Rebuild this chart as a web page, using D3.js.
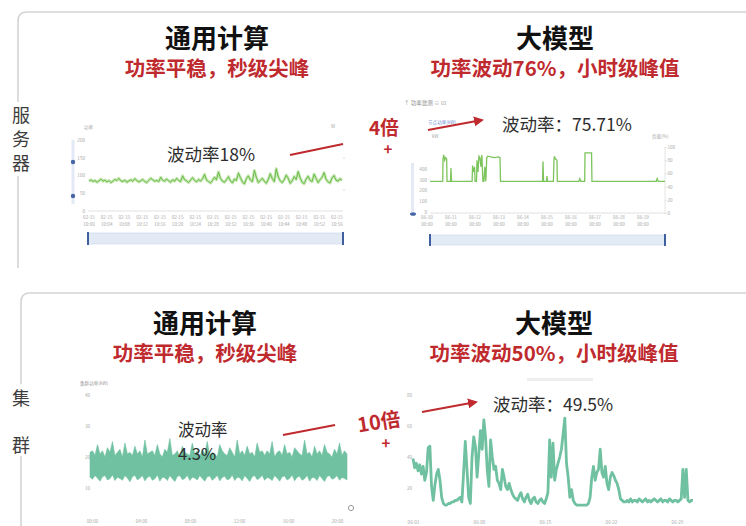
<!DOCTYPE html>
<html>
<head>
<meta charset="utf-8">
<script src="https://cdn.jsdelivr.net/npm/d3@7"></script>
<style>
  body { margin: 0; background: #fff; }
  svg { display: block; }
</style>
</head>
<body>
<svg id="chart" width="746" height="526"></svg>
<script>
// ---------- text content ----------
const rowLabels = [["服", "务", "器"], ["集", "群"]];
const panelTitles = ["通用计算", "大模型"];
const serverSubtitles = ["功率平稳，秒级尖峰", "功率波动76%，小时级峰值"];
const clusterSubtitles = ["功率平稳，秒级尖峰", "功率波动50%，小时级峰值"];
const multipliers = ["4倍", "10倍"];
const serverNotes = ["波动率18%", "波动率：75.71%"];
const clusterNotes = [["波动率", "4.3%"], ["波动率：49.5%"]];

// ---------- server, general compute: power samples (W) ----------
const serverGeneral = [
  84,88,83,86,81,85,90,84,87,82,86,80,84,89,86,92,85,83,87,81,
  85,88,84,91,86,82,85,89,83,80,86,92,88,84,86,83,95,87,84,90,
  85,81,88,84,92,86,83,99,88,85,80,87,94,86,82,89,84,91,103,87,
  83,79,86,95,88,110,92,84,81,88,97,85,79,90,86,107,94,82,76,91,
  99,87,83,114,95,80,86,92,84,78,89,105,91,83,119,96,85,80,88,101,
  92,78,85,97,89,111,93,81,77,90,98,86,83,104,92,80,88,95,108,89,
  82,79,93,100,87,84,91,86
];
const serverGeneralYTicks = [0, 50, 100, 150, 200];
const serverGeneralTicks = [
  "02-15 10:00","02-15 10:04","02-15 10:08","02-15 10:12","02-15 10:16",
  "02-15 10:20","02-15 10:24","02-15 10:28","02-15 10:32","02-15 10:36",
  "02-15 10:40","02-15 10:44","02-15 10:48","02-15 10:52","02-15 10:56"
];

// ---------- server, large model: [hour, load %] ----------
const serverLLM = [
  [0,48],[13,48],[13.3,82],[14,88],[15,80],[16,84],[17,82],[17.4,48],[21,48],[21.4,68],[22,48],
  [43,48],[43.5,72],[44,62],[45.5,70],[46,48],[47.5,48],[48,80],[49,62],[50,86],[51,84],[52,70],
  [53,88],[54,48],[55,48],[56,70],[57,48],[58,84],[59,86],[62,85],[66,84],[70,85],[71.5,84],
  [72,48],[115,48],[115.4,78],[116,48],[119,48],[119.5,56],[120,48],[126,48],[126.6,80],[127,86],
  [128,82],[129.7,80],[130,48],[152,48],[153,52],[154,48],[158,48],[158.3,91],[165,91],[165.4,48],
  [231,48],[232,52],[233,48],[240,48]
];
const serverLLMLeftTicks = [0, 100, 200, 300, 400];
const serverLLMRightTicks = [0, 20, 40, 60, 80, 100];
const serverLLMTicks = [
  "06-10 00:00","06-11 00:00","06-12 00:00","06-13 00:00","06-14 00:00",
  "06-15 00:00","06-16 00:00","06-17 00:00","06-18 00:00","06-19 00:00"
];

// ---------- cluster, general compute: envelope of the power band (kW) ----------
const clusterGeneralTop = [
  21.5,22,20.5,24,21,22,20,23,21.5,25,20.5,21.5,22.5,20,24.5,21,21.5,20.5,23.5,21,
  22,20,25.5,21,21.5,22,20.5,24,21,20,22.5,21.5,26,20.5,21,22,20,23.5,21.5,21,
  20.5,24.5,21,22,20,22.5,21,25,20.5,21.5,21,20,24,22,21,20.5,23,21.5,20,25.5,
  21,22,20.5,23.5,21,21.5,20,24.5,21.5,22,20.5,22,21,25,20,21.5,22,20.5,24,21,
  21.5,20,23,22,21,20.5,25.5,21,21.5,20,23.5,21,22,20.5,24,21.5,21,20,22.5,21,
  24.5,20.5,22,21
];
const clusterGeneralBottom = [
  13.5,12.8,14,13.2,12.2,13.6,14,12.6,13,14.2,12.4,13.5,13.1,12.5,14,13.2,12,13.6,14.1,12.6,
  13.2,14,12.3,13.4,13.9,12.5,13,14.2,12.2,13.5,13.3,12.4,14,13,12.1,13.7,14,12.7,13.1,14.1,
  12.4,13.5,13.2,12.6,14,13.1,12.2,13.6,13.9,12.5,13.2,14.1,12.3,13.4,13.8,12.6,13,14.2,12.4,13.5,
  13.3,12.3,14,13.1,12.1,13.6,14,12.7,13.2,14.1,12.5,13.4,13.1,12.4,14,13.2,12.2,13.6,13.9,12.6,
  13.1,14.2,12.3,13.5,13.8,12.5,13,14.1,12.2,13.4,13.3,12.4,14,13.1,12.1,13.7,14,12.8,13.2,14,
  12.5,13.4,13.1,12.6
];
const clusterGeneralYTicks = [10, 20, 30, 40];
const clusterGeneralTicks = ["00:00", "04:00", "08:00", "12:00", "16:00", "20:00"];

// ---------- cluster, large model: power (MW) ----------
const clusterLLM = [
  39,33,36,31,35,29,34,25,30,46,47,21,12,22,29,32,25,14,10,9,
  9,10,10,11,11,12,12,13,14,11,30,50,32,14,10,40,53,47,27,42,
  57,45,64,53,32,21,51,40,32,34,25,23,19,32,27,21,19,23,19,16,
  14,13,12,15,17,13,11,14,16,12,10,13,14,11,10,12,13,11,10,13,
  17,51,27,49,25,32,36,40,45,55,65,36,27,14,19,12,10,9,9,9,
  9,9,9,9,10,14,27,34,25,30,32,45,30,27,34,23,19,27,30,28,
  25,23,19,13,12,11,11,12,11,13,11,12,12,11,13,12,11,12,13,11,
  12,11,12,13,12,11,12,13,11,12,12,11,13,12,11,12,12,11,12,13,
  32,14,32,12,11,12,12
];
const clusterLLMYTicks = [20, 40, 60, 80];
const clusterLLMTicks = ["06-01", "06-08", "06-15", "06-22", "06-29"];

// ---------- styles ----------
const FONT = "'Noto Sans CJK SC', 'Noto Sans', sans-serif";
const RED = "#bf2a2e";
const GREEN = "#5fb83c";
const GREEN_LIGHT = "#c6e6b3";
const TEAL = "#6fc1a1";
const TINY = "#a8a8a8";

const svg = d3.select("#chart").style("font-family", FONT);

// ---------- section frames ----------
svg.append("path")
  .attr("d", "M18,268 L18,21 Q18,12 27,12 L746,12")
  .attr("fill", "none").attr("stroke", "#d4d4d4").attr("stroke-width", 1.6);
svg.append("path")
  .attr("d", "M21,526 L21,302 Q21,293 30,293 L746,293")
  .attr("fill", "none").attr("stroke", "#d4d4d4").attr("stroke-width", 1.6);

// row labels on a white backing so they sit over the frame edge
svg.append("rect").attr("x", 9).attr("y", 102).attr("width", 24).attr("height", 74).attr("fill", "#fff");
svg.append("rect").attr("x", 9).attr("y", 384).attr("width", 24).attr("height", 72).attr("fill", "#fff");
svg.selectAll("text.row0").data(rowLabels[0]).join("text")
  .attr("x", 21).attr("y", (d, i) => 122 + i * 24)
  .attr("text-anchor", "middle").attr("font-size", 18).attr("fill", "#3d3d3d").text(d => d);
svg.selectAll("text.row1").data(rowLabels[1]).join("text")
  .attr("x", 21).attr("y", (d, i) => 405 + i * 47)
  .attr("text-anchor", "middle").attr("font-size", 18).attr("fill", "#3d3d3d").text(d => d);

// ---------- headings ----------
function headings(cx, titleY, subs) {
  panelTitles.forEach((t, i) => {
    svg.append("text").attr("x", cx[i]).attr("y", titleY)
      .attr("text-anchor", "middle").attr("font-size", 26).attr("font-weight", 700)
      .attr("fill", "#111").text(t);
    svg.append("text").attr("x", cx[i]).attr("y", titleY + 28)
      .attr("text-anchor", "middle").attr("font-size", 20.5).attr("font-weight", 700)
      .attr("fill", RED).text(subs[i]);
  });
}
headings([217, 555], 48, serverSubtitles);
headings([205, 554], 333, clusterSubtitles);

// ---------- helpers ----------
function tidyAxis(g, size) {
  g.select(".domain").remove();
  g.selectAll(".tick line").attr("stroke", "#d8d8d8");
  g.selectAll("text").attr("font-size", size || 5).attr("fill", TINY).attr("font-family", FONT);
}
function twoLineTicks(labels, x0, x1, y) {
  const sx = d3.scalePoint().domain(d3.range(labels.length)).range([x0, x1]);
  const g = svg.append("g").attr("font-size", 4.6).attr("fill", TINY).attr("text-anchor", "middle");
  labels.forEach((lab, i) => {
    const parts = lab.split(" ");
    const t = g.append("text").attr("x", sx(i)).attr("y", y);
    t.append("tspan").attr("x", sx(i)).text(parts[0]);
    t.append("tspan").attr("x", sx(i)).attr("dy", 6.5).text(parts[1]);
  });
}
function rangeSlider(x0, x1, y, h) {
  svg.append("rect").attr("x", x0).attr("y", y).attr("width", x1 - x0).attr("height", h)
    .attr("fill", "#e2eaf6").attr("stroke", "#cad6ea").attr("stroke-width", 0.6);
  [x0, x1].forEach(x => svg.append("rect").attr("x", x - 1).attr("y", y - 1)
    .attr("width", 2).attr("height", h + 2).attr("fill", "#3f5f9e"));
}

// ---------- server / general compute ----------
{
  const x = d3.scaleLinear().domain([0, serverGeneral.length - 1]).range([89, 342]);
  const y = d3.scaleLinear().domain([0, 200]).range([211, 140]);
  svg.append("g").attr("transform", "translate(343,0)")
    .call(d3.axisRight(y).tickValues([60, 150]).tickSize(2).tickFormat(""))
    .call(g => tidyAxis(g));
  svg.append("line").attr("x1", 88).attr("x2", 343).attr("y1", y(0)).attr("y2", y(0))
    .attr("stroke", "#d9d9d9").attr("stroke-width", 0.8);
  svg.append("g").attr("transform", "translate(86,0)")
    .call(d3.axisLeft(y).tickValues(serverGeneralYTicks).tickSize(0).tickPadding(1))
    .call(g => tidyAxis(g, 4.6));
  svg.append("text").attr("x", 84).attr("y", 129).attr("font-size", 4.6).attr("fill", TINY).text("功率");
  svg.append("text").attr("x", 331).attr("y", 128).attr("font-size", 4.6).attr("fill", TINY).text("W");
  const line = d3.line().x((d, i) => x(i)).y(d => y(d));
  svg.append("path").datum(serverGeneral).attr("d", line).attr("fill", "none")
    .attr("stroke", GREEN_LIGHT).attr("stroke-width", 3).attr("stroke-linejoin", "round");
  svg.append("path").datum(serverGeneral).attr("d", line).attr("fill", "none")
    .attr("stroke", GREEN).attr("stroke-width", 0.9).attr("stroke-linejoin", "round");
  twoLineTicks(serverGeneralTicks, 89, 337, 219);
  rangeSlider(88, 343, 233, 11);
  svg.append("rect").attr("x", 71.5).attr("y", 140).attr("width", 3).attr("height", 64).attr("fill", "#e3eaf5");
  [162, 196].forEach(cy => svg.append("circle").attr("cx", 73).attr("cy", cy).attr("r", 2.2).attr("fill", "#4767a6"));
  svg.append("text").attr("x", 167).attr("y", 161).attr("font-size", 17.5).attr("fill", "#2e2e2e").text(serverNotes[0]);
}

// ---------- server / large model ----------
{
  const x = d3.scaleLinear().domain([0, 240]).range([430, 665]);
  const y = d3.scaleLinear().domain([0, 100]).range([213, 147]);
  const yLeft = d3.scaleLinear().domain([0, 400]).range([212, 169]);
  svg.append("line").attr("x1", 430).attr("x2", 665).attr("y1", 213).attr("y2", 213)
    .attr("stroke", "#d9d9d9").attr("stroke-width", 0.8);
  svg.append("line").attr("x1", 665).attr("x2", 665).attr("y1", 147).attr("y2", 213)
    .attr("stroke", "#e0e0e0").attr("stroke-width", 0.8);
  svg.append("g").attr("transform", "translate(428,0)")
    .call(d3.axisLeft(yLeft).tickValues(serverLLMLeftTicks).tickSize(0).tickPadding(1))
    .call(g => tidyAxis(g, 4.6));
  svg.append("g").attr("transform", "translate(665,0)")
    .call(d3.axisRight(y).tickValues(serverLLMRightTicks).tickSize(1.5).tickPadding(1))
    .call(g => tidyAxis(g, 4.6));
  svg.append("path").datum(serverLLM)
    .attr("d", d3.line().x(d => x(d[0])).y(d => y(d[1])))
    .attr("fill", "none").attr("stroke", "#7cc45c").attr("stroke-width", 1.3);
  twoLineTicks(serverLLMTicks, 427, 643, 219);
  rangeSlider(430, 665, 235, 10);
  svg.append("rect").attr("x", 411).attr("y", 163).attr("width", 3).attr("height", 49).attr("fill", "#e3eaf5");
  svg.append("ellipse").attr("cx", 413).attr("cy", 214).attr("rx", 3).attr("ry", 1.8).attr("fill", "#4767a6");
  svg.append("text").attr("x", 404).attr("y", 105).attr("font-size", 5.5).attr("fill", "#8a8a8a").text("↑ 功率监测  ≡  ⊡");
  svg.append("text").attr("x", 428).attr("y", 124).attr("font-size", 4.6).attr("fill", "#6a8fd0").text("节点功率(kW)");
  svg.append("text").attr("x", 432).attr("y", 138).attr("font-size", 4.6).attr("fill", TINY).text("kW");
  svg.append("text").attr("x", 652).attr("y", 138).attr("font-size", 4.6).attr("fill", TINY).text("负载(%)");
  svg.append("text").attr("x", 502).attr("y", 131).attr("font-size", 17.5).attr("fill", "#2e2e2e").text(serverNotes[1]);
}

// ---------- cluster / general compute ----------
{
  const x = d3.scaleLinear().domain([0, clusterGeneralTop.length - 1]).range([90, 347]);
  const y = d3.scaleLinear().domain([0, 40]).range([519, 395]);
  svg.append("g").attr("transform", "translate(91,0)")
    .call(d3.axisLeft(y).tickValues(clusterGeneralYTicks).tickSize(0).tickPadding(1))
    .call(g => tidyAxis(g, 4.6));
  svg.append("text").attr("x", 80).attr("y", 385).attr("font-size", 4.6).attr("fill", "#999").text("集群功率(kW)");
  const area = d3.area().x((d, i) => x(i))
    .y0((d, i) => y(clusterGeneralBottom[i])).y1(d => y(d));
  svg.append("path").datum(clusterGeneralTop).attr("d", area)
    .attr("fill", TEAL).attr("stroke", TEAL).attr("stroke-width", 0.6);
  const sx = d3.scalePoint().domain(clusterGeneralTicks).range([92, 337]);
  svg.append("g").attr("transform", "translate(0,520)")
    .call(d3.axisBottom(sx).tickSize(0).tickPadding(0))
    .call(g => tidyAxis(g, 4.6));
  svg.append("circle").attr("cx", 351).attr("cy", 508).attr("r", 2.6).attr("fill", "none")
    .attr("stroke", "#9a9a9a").attr("stroke-width", 1);
  // two-line note
  svg.append("text").attr("x", 178).attr("y", 436)
    .attr("font-size", 16.5).attr("fill", "#2e2e2e").text(clusterNotes[0][0]);
  svg.append("text").attr("x", 178).attr("y", 460)
    .attr("font-size", 16.5).attr("fill", "#2e2e2e").text(clusterNotes[0][1]);
}

// ---------- cluster / large model ----------
{
  const x = d3.scaleLinear().domain([0, clusterLLM.length - 1]).range([413, 693]);
  const y = d3.scaleLinear().domain([0, 80]).range([519, 395]);
  svg.append("g").attr("transform", "translate(413,0)")
    .call(d3.axisLeft(y).tickValues(clusterLLMYTicks).tickSize(0).tickPadding(1))
    .call(g => tidyAxis(g, 4.6));
  svg.append("rect").attr("x", 527).attr("y", 378).attr("width", 66).attr("height", 3).attr("fill", "#eeeeee");
  svg.append("path").datum(clusterLLM)
    .attr("d", d3.line().x((d, i) => x(i)).y(d => y(d)))
    .attr("fill", "none").attr("stroke", TEAL).attr("stroke-width", 2.8)
    .attr("stroke-linejoin", "round");
  const sx = d3.scalePoint().domain(clusterLLMTicks).range([413, 677]);
  svg.append("g").attr("transform", "translate(0,521)")
    .call(d3.axisBottom(sx).tickSize(0).tickPadding(0))
    .call(g => tidyAxis(g, 4.6));
  svg.append("text").attr("x", 493).attr("y", 411).attr("font-size", 17.5).attr("fill", "#2e2e2e").text(clusterNotes[1][0]);
}

// ---------- ratio callouts ----------
svg.append("defs").append("marker")
  .attr("id", "head").attr("viewBox", "0 0 10 10").attr("refX", 8).attr("refY", 5)
  .attr("markerWidth", 5).attr("markerHeight", 5).attr("orient", "auto")
  .append("path").attr("d", "M0,0 L10,5 L0,10 z").attr("fill", RED);

function callout(lead, arrow, label, cross, angle, size) {
  svg.append("line").attr("x1", lead[0]).attr("y1", lead[1]).attr("x2", lead[2]).attr("y2", lead[3])
    .attr("stroke", RED).attr("stroke-width", 2);
  svg.append("line").attr("x1", arrow[0]).attr("y1", arrow[1]).attr("x2", arrow[2]).attr("y2", arrow[3])
    .attr("stroke", RED).attr("stroke-width", 2).attr("marker-end", "url(#head)");
  svg.append("text").attr("transform", `translate(${label.x},${label.y}) rotate(${angle})`)
    .attr("text-anchor", "middle").attr("font-size", size).attr("font-weight", 700)
    .attr("fill", RED).text(label.text);
  svg.append("text").attr("x", cross[0]).attr("y", cross[1]).attr("text-anchor", "middle")
    .attr("font-size", 15).attr("font-weight", 700).attr("fill", RED).text("+");
}
callout([290, 155, 343, 144], [428, 130, 482, 120], { x: 384, y: 135, text: multipliers[0] }, [388, 155], 0, 19);
callout([283, 435, 335, 425], [422, 412, 476, 402], { x: 380, y: 429, text: multipliers[1] }, [386, 449], -9, 20);
</script>
</body>
</html>
